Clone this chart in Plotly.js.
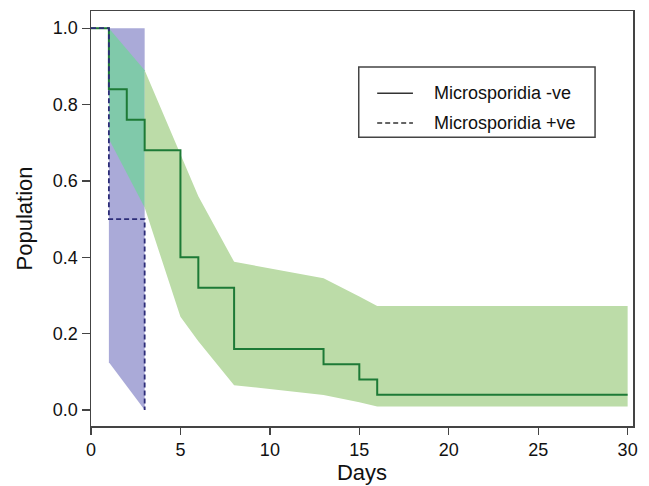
<!DOCTYPE html>
<html>
<head>
<meta charset="utf-8">
<script src="https://cdn.plot.ly/plotly-3.0.1.min.js"></script>
<style>html,body{margin:0;padding:0;background:#fff;}#chart{width:649px;height:486px;}</style>
</head>
<body>
<div id="chart"></div>
<script>
// Kaplan-Meier step curves
var negDays = [0, 1, 2, 3, 5, 6, 8, 13, 15, 16, 30];
var negSurv = [1.0, 0.84, 0.76, 0.68, 0.40, 0.32, 0.16, 0.12, 0.08, 0.04, 0.04];
var posDays = [0, 1, 3];
var posSurv = [1.0, 0.5, 0.0];

// Confidence bands
var negCIDays  = [1, 2, 3, 5, 6, 8, 13, 15, 16, 30];
var negCIUpper = [1.0, 0.945, 0.89, 0.67, 0.56, 0.388, 0.345, 0.297, 0.272, 0.272];
var negCILower = [0.71, 0.62, 0.53, 0.244, 0.18, 0.065, 0.039, 0.02, 0.009, 0.009];
var posCIDays  = [1, 3];
var posCIUpper = [1.0, 1.0];
var posCILower = [0.125, 0.0];

var legendLabels = ['Microsporidia -ve', 'Microsporidia +ve'];
var xTicks = [0, 5, 10, 15, 20, 25, 30];
var yTicks = [0, 0.2, 0.4, 0.6, 0.8, 1.0];

function band(xs, up, lo, color, name) {
  return {
    x: xs.concat(xs.slice().reverse()),
    y: up.concat(lo.slice().reverse()),
    type: 'scatter', mode: 'lines', fill: 'toself', fillcolor: color,
    line: {width: 0, color: color}, hoverinfo: 'skip', showlegend: false, name: name
  };
}
function subset(xs, ys, test) {
  var ox = [], oy = [];
  for (var i = 0; i < xs.length; i++) if (test(xs[i])) { ox.push(xs[i]); oy.push(ys[i]); }
  return [ox, oy];
}

var early = function (d) { return d <= 3; };
var late = function (d) { return d >= 3; };
var eU = subset(negCIDays, negCIUpper, early), eL = subset(negCIDays, negCILower, early);
var lU = subset(negCIDays, negCIUpper, late), lL = subset(negCIDays, negCILower, late);

var traces = [
  band(posCIDays, posCIUpper, posCILower, '#aaaad8', 'CI +ve'),
  band(eU[0], eU[1], eL[1], '#80c9aa', 'CI overlap'),
  band(lU[0], lU[1], lL[1], '#bcdca8', 'CI -ve'),
  {x: negDays, y: negSurv, type: 'scatter', mode: 'lines', line: {shape: 'hv', color: '#1d7a36', width: 2},
   name: legendLabels[0], showlegend: false},
  {x: posDays, y: posSurv, type: 'scatter', mode: 'lines', line: {shape: 'hv', color: '#2c2c78', width: 1.8, dash: '5px,3px'},
   name: legendLabels[1], showlegend: false}
];

var fontFam = '"Liberation Sans", Arial, Helvetica, sans-serif';
var legX0 = 0.494, legX1 = 0.930, legY0 = 0.696, legY1 = 0.865;
var rowY = [0.802, 0.730];
var shapes = [
  {type: 'rect', xref: 'paper', yref: 'paper', x0: legX0, x1: legX1, y0: legY0, y1: legY1,
   line: {color: '#444', width: 1.5}, fillcolor: '#fff'},
  {type: 'line', xref: 'paper', yref: 'paper', x0: 0.528, x1: 0.594, y0: rowY[0], y1: rowY[0], line: {color: '#333', width: 1.5}},
  {type: 'line', xref: 'paper', yref: 'paper', x0: 0.528, x1: 0.594, y0: rowY[1], y1: rowY[1], line: {color: '#333', width: 1.5, dash: '5px,3px'}}
];
var annotations = legendLabels.map(function (t, i) {
  return {xref: 'paper', yref: 'paper', x: 0.629, y: rowY[i], xanchor: 'left', yanchor: 'middle',
          text: t, showarrow: false, font: {family: fontFam, size: 18, color: '#111'}};
});

var layout = {
  width: 649, height: 486,
  margin: {l: 91, r: 16, t: 11, b: 60},
  paper_bgcolor: '#fff', plot_bgcolor: '#fff',
  font: {family: fontFam, size: 18, color: '#111'},
  showlegend: false,
  xaxis: {range: [0, 30.3], tickvals: xTicks, ticks: 'outside', ticklen: 7, tickwidth: 1.3, tickcolor: '#444',
          showline: true, mirror: true, linecolor: '#444', linewidth: 1.5, showgrid: false, zeroline: false,
          tickfont: {size: 18}, title: {text: 'Days', font: {size: 22}, standoff: 4}},
  yaxis: {range: [-0.042, 1.045], tickvals: yTicks, tickformat: '.1f', ticks: 'outside', ticklen: 8, tickwidth: 1.3, tickcolor: '#444',
          showline: true, mirror: true, linecolor: '#444', linewidth: 1.5, showgrid: false, zeroline: false,
          tickfont: {size: 18}, title: {text: 'Population', font: {size: 22}, standoff: 14}},
  shapes: shapes,
  annotations: annotations
};

Plotly.newPlot('chart', traces, layout, {displayModeBar: false, staticPlot: true});
</script>
</body>
</html>
